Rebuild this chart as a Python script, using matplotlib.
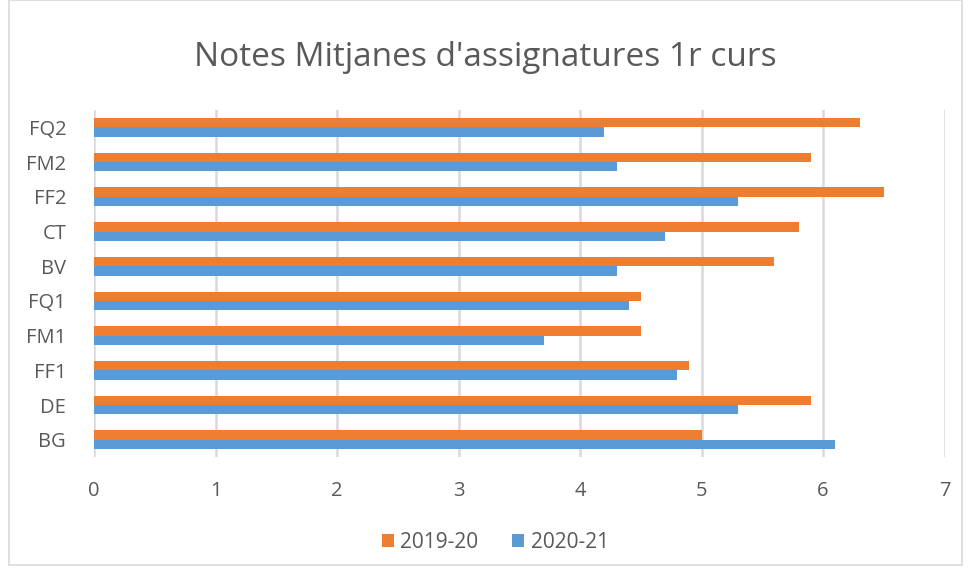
import matplotlib
matplotlib.use("Agg")
import matplotlib.pyplot as plt
import numpy as np
from matplotlib.patches import Rectangle

categories = ["BG", "DE", "FF1", "FM1", "FQ1", "BV", "CT", "FF2", "FM2", "FQ2"]
s2019 = [5.0, 5.9, 4.9, 4.5, 4.5, 5.6, 5.8, 6.5, 5.9, 6.3]
s2020 = [6.1, 5.3, 4.8, 3.7, 4.4, 4.3, 4.7, 5.3, 4.3, 4.2]
series_names = ["2019-20", "2020-21"]
xticks = [0, 1, 2, 3, 4, 5, 6, 7]

plt.rcParams['font.family'] = ['Open Sans', 'DejaVu Sans']
txt = '#595959'

fig = plt.figure(figsize=(9.71, 5.70), dpi=100)
ax = fig.add_axes([0.0968, 0.198, 0.876, 0.609])

y = np.arange(len(categories))
h = 0.27
ax.barh(y + h/2, s2019, height=h, color='#ED7D31', label=series_names[0], zorder=3)
ax.barh(y - h/2, s2020, height=h, color='#5B9BD5', label=series_names[1], zorder=3)

ax.set_xlim(0, 7)
ax.set_ylim(-0.5, len(categories) - 0.5)
ax.set_xticks(xticks)
ax.set_yticks(y)
ax.set_yticklabels(categories)
ax.xaxis.grid(True, color='#D9D9D9', linewidth=1.8, zorder=0)
ax.set_axisbelow(True)
for s in ax.spines.values():
    s.set_visible(False)
ax.tick_params(axis='both', length=0, colors=txt, labelsize=14.5)
ax.tick_params(axis='x', pad=17)
ax.tick_params(axis='y', pad=20)

fig.text(0.5, 0.9, "Notes Mitjanes d'assignatures 1r curs", ha='center', va='center',
         fontsize=24, color=txt)

handles, labels = ax.get_legend_handles_labels()
fig.legend(handles, labels, loc='center', bbox_to_anchor=(0.51, 0.048), ncol=2,
           frameon=False, fontsize=15, labelcolor=txt, handlelength=0.6,
           handleheight=0.6, columnspacing=1.6, handletextpad=0.3)

fig.patches.append(Rectangle((9/971, 5/570), 953/971, 565/570, transform=fig.transFigure,
                             fill=False, edgecolor='#D9D9D9', linewidth=1.2))

fig.savefig("out.png", dpi=100)
